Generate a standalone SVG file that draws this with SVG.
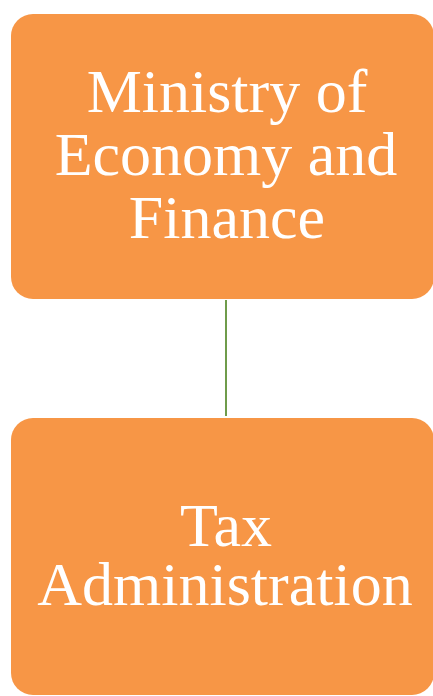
<svg xmlns="http://www.w3.org/2000/svg" width="433" height="696" viewBox="0 0 433 696">
<style>
.box{fill:#F79646;}
.lbl{font-family:"Liberation Serif","Times New Roman",serif;font-size:62px;fill:#FFFFFF;text-anchor:middle;}
.conn{stroke:#6F9C4B;stroke-width:2;fill:none;}
</style>
<rect width="433" height="696" fill="#FFFFFF"/>
<g id="connectors">
<line class="conn" x1="226" y1="300" x2="226" y2="416"/>
</g>
<g id="ministry">
<rect class="box" x="11" y="14" width="423" height="285" rx="22" ry="22"/>
<text class="lbl" x="227" y="112">Ministry of</text>
<text class="lbl" x="226" y="175">Economy and</text>
<text class="lbl" x="227" y="238">Finance</text>
</g>
<g id="tax">
<rect class="box" x="11" y="418" width="423" height="277" rx="22" ry="22"/>
<text class="lbl" x="226" y="546">Tax</text>
<text class="lbl" x="225" y="605">Administration</text>
</g>
</svg>
